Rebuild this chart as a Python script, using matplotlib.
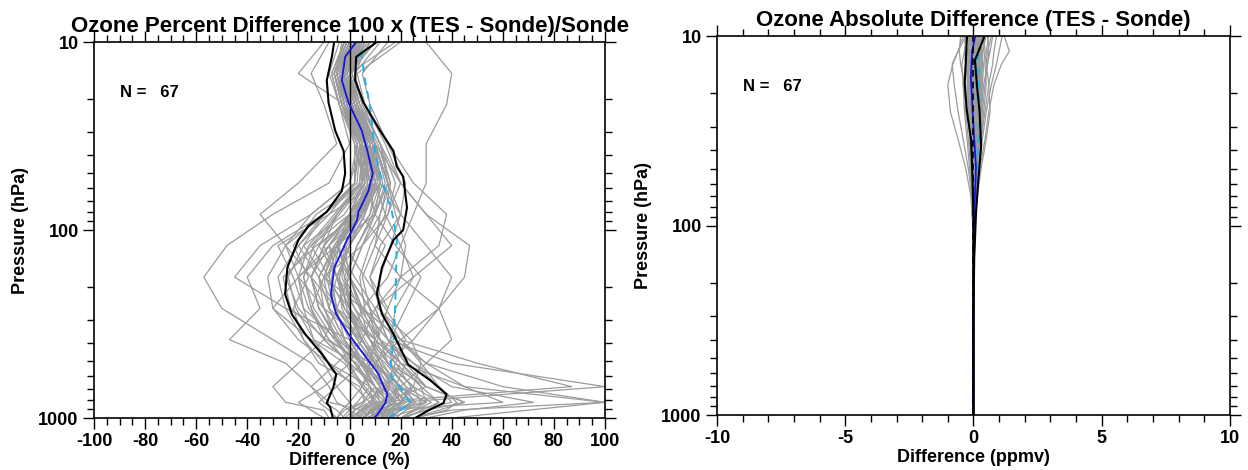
import numpy as np
import matplotlib
matplotlib.use("Agg")
from matplotlib import pyplot as plt
from matplotlib.ticker import MultipleLocator, FixedLocator, NullFormatter

plt.rcParams['font.family'] = ['Liberation Sans', 'DejaVu Sans']
plt.rcParams['font.weight'] = 'bold'
plt.rcParams['axes.unicode_minus'] = False

N_PROFILES = 67

# ---- left panel: percent difference, one row per sonde profile ----
p_left = [1000, 908, 825, 681, 511, 383, 261, 178, 121, 82.5, 56.2, 34.8, 21.5, 14.7, 10]
pct_profiles = [
    [5, 10, 12, 8, 2, -5, -12, -15, -8, 2, 8, 5, -2, -4, 0],
    [15, 20, 25, 18, 10, 5, -2, -5, 0, 6, 10, 8, 2, -1, 4],
    [-5, -2, 5, 10, 5, -3, -10, -12, -5, 4, 12, 8, 0, -3, 3],
    [20, 30, 45, 30, 15, 8, 0, -2, 3, 10, 14, 10, 3, 0, 6],
    [0, 2, 0, -5, -10, -18, -25, -28, -20, -8, 2, 3, -4, -7, -2],
    [10, 12, 8, 15, 20, 15, 5, 0, -5, 0, 5, 4, -1, -5, 1],
    [30, 45, 72, 40, 25, 12, 2, -5, -10, -5, 4, 5, 0, -2, 5],
    [8, 5, -8, -15, -25, -47, -35, -40, -30, -10, 3, 4, -2, -6, -1],
    [12, 15, 20, 25, 15, 10, 15, 20, 22, 18, 15, 10, 4, 0, 8],
    [-8, -10, -25, -30, -20, -10, -5, -8, -15, -5, 5, 6, 1, -3, 2],
    [25, 40, 100, 60, 30, 20, 5, -10, -18, -10, 2, 4, -1, -4, 3],
    [5, 8, 12, 20, 30, 40, 35, 20, 10, 12, 15, 10, 2, -2, 4],
    [15, 20, 18, 10, 0, -10, -20, -25, -15, 0, 10, 8, 3, 0, 10],
    [2, 0, 5, 15, 10, 5, -5, -12, -20, -10, 5, 8, 0, -4, 2],
    [40, 70, 100, 45, 20, 10, 0, -5, 0, 8, 12, 6, -2, -5, 0],
    [10, 15, 20, 100, 40, 15, 5, 0, 5, 10, 12, 8, 1, -3, 4],
    [0, 5, 10, 87, 50, 20, 5, 0, -5, 5, 10, 6, 0, -2, 3],
    [5, 0, -5, -8, -15, -30, -50, -57, -48, -30, -8, 0, -4, -7, -2],
    [10, 8, 15, 20, 10, 0, -25, -45, -35, -15, 0, 5, 0, -3, 3],
    [-10, -15, -20, -10, 0, 5, 10, 25, 40, 30, 20, 12, 4, 0, 6],
    [0, 5, 10, 5, 10, 20, 35, 45, 47, 30, 20, 10, 3, -1, 5],
    [15, 25, 40, 35, 25, 15, 10, 20, 35, 38, 25, 15, 5, 2, 8],
    [20, 25, 30, 20, 10, 5, -10, -20, -25, -15, 0, 3, -2, -5, 0],
    [-2, -5, -10, -15, -5, 5, 0, -10, -5, 10, 15, 10, 0, -4, 2],
    [8, 10, 15, 10, 0, -10, -15, -10, 5, 15, 18, 12, 5, 2, 12],
    [25, 35, 45, 30, 20, 10, -5, -15, -10, 0, 8, 5, -1, -5, 0],
    [5, 10, 20, 15, 5, -2, -8, -5, 0, 8, 10, 6, 0, -3, 3],
    [12, 18, 25, 22, 15, 8, 0, -5, -8, 0, 8, 5, -3, -6, -2],
    [-5, -3, 0, 5, 8, 10, 5, -5, -12, -5, 5, 8, 3, 0, 18],
    [10, 15, 30, 20, 8, -5, -18, -20, -8, 5, 12, 10, 4, 0, 10],
    [0, 2, 8, 12, 5, -8, -15, -18, -12, 2, 10, 5, -2, -5, -3],
    [15, 20, 28, 25, 15, 12, 8, 5, 10, 15, 20, 14, 6, 3, 20],
    [5, 10, 15, 10, 5, 0, 5, 15, 20, 25, 30, 30, 38, 40, 30],
    [10, 12, 10, 5, 0, -5, -10, -15, -25, -35, -20, -5, -10, -15, -8],
    [18, 22, 30, 28, 18, 8, -2, -8, -5, 5, 12, 10, 2, -2, 5],
    [-3, 0, 3, 8, 2, -5, -12, -15, -10, 0, 6, 4, -2, -20, -10],
    [6, 8, 12, 30, 22, 15, 10, 2, -5, 2, 10, 8, 2, -1, 4],
    [25, 38, 42, 35, 28, 20, 12, 8, 12, 20, 22, 15, 8, 5, 15],
    [2, 5, 8, 2, -8, -20, -30, -32, -25, -10, 2, 2, -3, -6, -2],
    [14, 16, 18, 12, 5, -2, -5, 0, 5, 12, 16, 12, 5, 1, 6],
    [-5, -8, -12, -5, 5, 10, 8, 0, -8, 0, 10, 8, 1, -3, 2],
    [8, 12, 60, 45, 30, 18, 8, 0, -5, 3, 10, 8, 2, -2, 4],
    [20, 30, 35, 25, 15, 25, 35, 40, 30, 20, 15, 10, 3, 0, 8],
    [3, 6, 10, 5, -2, -15, -30, -20, -5, 10, 15, 12, 4, 1, 6],
    [12, 14, 16, 14, 18, 22, 14, 6, -2, 5, 9, 6, 0, -3, 2],
    [8, 10, 12, 10, 4, -2, -8, -10, -6, 2, 7, 5, -1, -4, 1],
    [15, 18, 22, 16, 9, 3, -3, -4, 0, 6, 11, 8, 1, -2, 5],
    [3, 6, 9, 8, 3, -14, -21, -24, -18, -2, 6, 4, -2, -5, 0],
    [18, 22, 26, 20, 12, 6, 0, -1, 3, 9, 13, 9, 2, -1, 6],
    [10, 14, 18, 18, 22, 16, 18, 25, 20, 14, 10, 7, 1, -3, 3],
    [6, 9, 14, 12, 6, 0, -6, -9, -4, 4, 9, 6, -1, -4, 1],
    [20, 26, 32, 22, 14, 4, -8, -12, -6, 3, 8, 4, -3, -6, -1],
    [-2, 2, 6, 4, -12, -18, -22, -16, -22, -13, 5, 3, -3, -6, -1],
    [14, 18, 20, 24, 18, 12, 6, 4, 8, 14, 16, 11, 3, -1, 4],
    [9, 11, 15, 10, 2, -6, -14, -18, -14, -4, 6, 7, 2, -2, 4],
    [11, 13, 16, 25, 28, 24, 11, 12, 16, 20, 12, 9, 2, -2, 3],
    [4, 7, 11, 6, -1, -8, -16, -20, -16, -6, 4, 5, 0, -3, 2],
    [16, 20, 24, 19, 13, 8, 2, -3, -2, 4, 9, 7, 1, -3, 3],
    [7, 12, 18, 14, 6, -9, -23, -26, -13, 3, 6, 2, -4, -8, -4],
    [13, 17, 21, 18, 10, 3, -5, -7, -4, 4, 10, 9, 3, 0, 7],
    [1, 4, 8, 12, 10, 16, 22, 28, 18, 10, 7, 6, 0, -3, 1],
    [22, 28, 35, 28, 20, 12, 4, -2, -4, 2, 8, 6, 0, -4, 2],
    [10, 12, 14, 8, -8, -14, -18, -22, -28, -8, 11, 9, 2, -1, 4],
    [5, 9, 13, 16, 12, 8, 4, 0, -2, 5, 12, 10, 3, 0, 5],
    [17, 19, 24, 14, 4, -4, -12, -15, -10, 1, 9, 7, 1, -2, 3],
    [9, 13, 17, 13, 7, 11, 15, 8, 14, 4, 8, 4, -3, -6, 0],
    [12, 16, 20, 17, 11, 5, -1, -4, -1, 6, 10, 7, 1, -2, 4],
]

# statistics
p_mean_l = [1000, 940, 832, 748, 685, 585, 457, 357, 280, 219, 158, 113, 89, 80, 62, 50, 38, 29.6, 21, 16, 12, 10]
mean_l = [9.7, 11.4, 14, 14.9, 13.5, 11.4, 5.5, -0.4, -5.2, -7.3, -5.9, -1, 2.9, 3.5, 7.4, 9.1, 7, 4.8, -0.4, -3, -1.7, 2.6]
p_lo_l = [1000, 874, 832, 685, 585, 457, 357, 280, 219, 158, 113, 95, 80, 62, 50, 38, 29.6, 21, 16, 12, 10]
lo_l = [-6.5, -7.6, -8.9, -6.3, -5.2, -10.8, -17.4, -22.6, -25.2, -24.3, -20, -16, -8.9, -3, -1.7, -2.3, -5.6, -8.2, -8.9, -6.9, -6]
p_hi_l = [1000, 920, 832, 748, 630, 520, 457, 357, 280, 219, 158, 113, 100, 76, 52, 46, 38, 29.6, 21, 16, 12, 10]
hi_l = [25.7, 30.3, 36.8, 38, 31.6, 23, 21, 17.2, 12.7, 10.7, 12.7, 17.2, 21, 22.5, 21, 18.5, 17.2, 12, 5.5, 2.2, 2.6, 10.7]
p_rms_l = [1000, 832, 685, 610, 500, 357, 201, 110, 100, 80, 62, 50, 38, 29.6, 21, 16, 12, 10.7]
rms_l = [15.3, 23.8, 19.8, 16.6, 16.2, 17.5, 18.1, 18.5, 17.9, 16.6, 14, 12, 10, 9.1, 7.8, 6.1, 4.8, 4.5]

# ---- right panel: absolute difference in ppmv ----
p_right = [1000, 300, 150, 100, 70, 50, 35, 25, 18, 14, 12, 10]
ppmv_profiles = [
    [0, 0, 0.01, 0.02, 0.05, 0.1, 0.15, 0.2, 0.1, 0.0, 0.05, 0.1],
    [0, 0, -0.01, -0.03, -0.08, -0.15, -0.25, -0.35, -0.4, -0.3, -0.2, -0.1],
    [0, 0, 0.02, 0.05, 0.12, 0.25, 0.45, 0.6, 0.8, 1.1, 1.4, 1.2],
    [0, 0, 0, -0.02, -0.1, -0.3, -0.6, -0.9, -1.0, -0.8, -0.6, -0.4],
    [0, 0, 0, -0.01, -0.05, -0.2, -0.4, -0.6, -0.75, -0.83, -0.6, -0.3],
    [0, 0, 0.01, 0.03, 0.08, 0.2, 0.35, 0.5, 0.7, 0.9, 1.0, 1.12],
    [0, 0, 0.01, 0.04, 0.1, 0.15, 0.2, 0.15, 0.05, 0.1, 0.2, 0.3],
    [0, 0, 0, 0.0, -0.02, -0.05, -0.1, -0.15, -0.2, -0.25, -0.3, -0.35],
    [0, 0, 0.01, 0.02, 0.06, 0.12, 0.25, 0.35, 0.3, 0.25, 0.35, 0.5],
    [0, 0, -0.01, -0.02, -0.05, -0.08, -0.1, -0.05, 0.0, -0.1, -0.15, -0.2],
    [0, 0, 0.02, 0.05, 0.1, 0.2, 0.3, 0.4, 0.5, 0.45, 0.5, 0.6],
    [0, 0, 0, 0.01, 0.03, 0.05, 0.02, -0.05, -0.15, -0.2, -0.25, -0.3],
    [0, 0, 0.01, 0.03, 0.06, 0.1, 0.12, 0.1, 0.15, 0.2, 0.25, 0.2],
    [0, 0, 0, -0.01, -0.03, -0.1, -0.2, -0.3, -0.35, -0.5, -0.55, -0.5],
    [0, 0, 0.01, 0.02, 0.05, 0.08, 0.15, 0.25, 0.35, 0.4, 0.45, 0.4],
    [0, 0, 0.0, 0.01, 0.0, -0.02, -0.05, -0.08, -0.1, -0.05, 0.0, 0.05],
    [0, 0, 0.02, 0.06, 0.15, 0.3, 0.5, 0.65, 0.6, 0.5, 0.55, 0.7],
    [0, 0, 0.01, 0.01, 0.02, 0.04, 0.06, 0.05, 0.02, -0.02, 0.0, 0.08],
    [0, 0, -0.01, -0.02, -0.04, -0.1, -0.15, -0.2, -0.25, -0.2, -0.1, 0.0],
    [0, 0, 0.01, 0.03, 0.08, 0.15, 0.22, 0.28, 0.3, 0.35, 0.3, 0.25],
    [0, 0, 0, 0.02, 0.04, 0.05, 0.08, 0.15, 0.25, 0.3, 0.2, 0.15],
    [0, 0, 0.01, 0.02, 0.05, 0.1, 0.18, 0.25, 0.2, 0.1, 0.0, -0.1],
    [0, 0, 0, -0.01, -0.02, -0.05, -0.12, -0.18, -0.22, -0.3, -0.35, -0.25],
    [0, 0, 0.02, 0.04, 0.1, 0.18, 0.3, 0.45, 0.6, 0.75, 0.8, 0.9],
    [0, 0, 0.01, 0.02, 0.03, 0.06, 0.1, 0.12, 0.08, 0.05, 0.1, 0.15],
    [0, 0, 0, 0.0, 0.02, 0.03, 0.0, -0.05, -0.1, -0.12, -0.05, 0.0],
    [0, 0, 0.01, 0.03, 0.07, 0.12, 0.2, 0.3, 0.4, 0.55, 0.65, 0.75],
    [0, 0, 0.01, 0.02, 0.05, 0.1, 0.15, 0.1, 0.0, -0.1, -0.15, -0.1],
    [0, 0, 0.01, 0.02, 0.04, 0.08, 0.1, 0.2, 0.25, 0.2, 0.15, 0.2],
    [0, 0, 0, -0.01, -0.03, -0.06, -0.08, -0.1, -0.12, -0.15, -0.2, -0.15],
    [0, 0, 0.01, 0.02, 0.04, 0.08, 0.25, 0.35, 0.45, 0.55, 0.6, 0.55],
    [0, 0, 0, 0.01, 0.02, 0.03, 0.05, 0.02, -0.05, -0.1, -0.08, 0.0],
    [0, 0, 0.01, 0.02, 0.05, 0.09, 0.14, 0.18, 0.15, 0.1, 0.12, 0.2],
    [0, 0, -0.01, -0.01, -0.02, -0.04, -0.12, -0.25, -0.4, -0.45, -0.35, -0.25],
    [0, 0, 0.01, 0.03, 0.06, 0.12, 0.2, 0.28, 0.35, 0.3, 0.35, 0.45],
    [0, 0, 0, 0.01, 0.01, 0.02, 0.03, 0.06, 0.1, 0.12, 0.15, 0.3],
    [0, 0, 0.01, 0.01, 0.03, 0.05, 0.08, 0.05, -0.02, -0.05, 0.0, 0.1],
    [0, 0, 0, -0.01, -0.02, -0.03, -0.05, -0.08, -0.12, -0.1, -0.05, 0.05],
    [0, 0, 0.01, 0.02, 0.04, 0.07, 0.1, 0.15, 0.2, 0.25, 0.3, 0.35],
    [0, 0, 0.01, 0.03, 0.07, 0.12, 0.18, 0.2, 0.18, 0.15, 0.1, 0.05],
    [0, 0, 0, 0.0, -0.01, -0.02, -0.04, -0.06, -0.05, 0.0, 0.05, 0.1],
    [0, 0, 0.01, 0.02, 0.04, 0.06, 0.09, 0.12, 0.1, 0.05, 0.05, 0.15],
    [0, 0, 0, -0.01, -0.03, -0.07, -0.12, -0.15, -0.18, -0.22, -0.2, -0.15],
    [0, 0, 0.01, 0.02, 0.05, 0.1, 0.16, 0.22, 0.28, 0.32, 0.38, 0.42],
    [0, 0, 0.01, 0.01, 0.02, 0.04, 0.07, 0.1, 0.12, 0.1, 0.08, 0.12],
    [0, 0, 0, 0.01, 0.02, 0.02, 0.0, -0.03, -0.06, -0.08, -0.1, -0.05],
    [0, 0, 0.01, 0.02, 0.03, 0.05, 0.06, 0.08, 0.05, 0.02, 0.05, 0.1],
    [0, 0, 0.01, 0.03, 0.06, 0.1, 0.14, 0.16, 0.2, 0.25, 0.28, 0.32],
    [0, 0, 0, -0.01, -0.02, -0.04, -0.07, -0.1, -0.1, -0.06, -0.02, 0.02],
    [0, 0, 0.01, 0.02, 0.04, 0.06, 0.1, 0.14, 0.16, 0.14, 0.18, 0.22],
]

p_mean_r = [1000, 300, 150, 90, 49, 30, 16.4, 12, 10]
mean_r = [0, 0, 0.01, 0.03, 0.1, 0.0, -0.1, -0.05, 0.07]
p_lo_r = [1000, 300, 150, 90, 57.5, 35.4, 24.6, 17.7, 10]
lo_r = [0, 0, -0.005, 0, -0.035, -0.09, -0.26, -0.34, -0.25]
p_hi_r = [1000, 300, 150, 86, 60, 38, 25, 18.5, 13.4, 10]
hi_r = [0, 0, 0.03, 0.1, 0.18, 0.3, 0.24, 0.14, 0.06, 0.43]
p_rms_r = [1000, 300, 150, 88, 57, 40, 24.6, 17.7, 11.5]
rms_r = [0, 0, 0.02, 0.05, 0.1, 0.18, 0.25, 0.21, 0.18]

GRAY = '#9c9c9c'
BLUE = '#1414e6'
CYAN = '#19b4f0'

fig = plt.figure(figsize=(12.48, 4.70), dpi=100)
ax1 = fig.add_axes([0.0753, 0.1106, 0.4095, 0.8])
ax2 = fig.add_axes([0.5745, 0.117, 0.411, 0.806])


def style_axes(ax, xmax, major, minor, xlabel, title):
    ax.set_yscale('log')
    ax.set_ylim(1000, 10)
    ax.set_xlim(-xmax, xmax)
    ax.yaxis.set_major_locator(FixedLocator([10, 100, 1000]))
    ax.set_yticklabels(['10', '100', '1000'])
    ax.yaxis.set_minor_locator(FixedLocator([20, 30, 40, 50, 60, 70, 80, 90,
                                             200, 300, 400, 500, 600, 700, 800, 900]))
    ax.yaxis.set_minor_formatter(NullFormatter())
    ax.xaxis.set_major_locator(MultipleLocator(major))
    ax.xaxis.set_minor_locator(MultipleLocator(minor))
    ax.tick_params(which='both', direction='out', top=True, right=True,
                   width=1.0, labelsize=13, pad=3)
    ax.tick_params(which='major', length=8)
    ax.tick_params(which='minor', length=5)
    for s in ax.spines.values():
        s.set_linewidth(1.2)
    ax.set_xlabel(xlabel, fontsize=13, fontweight='bold', labelpad=1)
    ax.set_ylabel('Pressure (hPa)', fontsize=13, fontweight='bold', labelpad=7)
    ax.set_title(title, fontsize=16, fontweight='bold', pad=7)
    ax.text(0.051, 0.867, 'N =   %d' % N_PROFILES, transform=ax.transAxes,
            fontsize=12, fontweight='bold', va='center', ha='left')


for prof in pct_profiles:
    ax1.plot(prof, p_left, color=GRAY, lw=0.9)
ax1.axvline(0, color='black', lw=1.0)
ax1.plot(rms_l, p_rms_l, color=CYAN, lw=1.4, ls=(0, (4, 3)))
ax1.plot(mean_l, p_mean_l, color=BLUE, lw=1.3)
ax1.plot(lo_l, p_lo_l, color='black', lw=1.5)
ax1.plot(hi_l, p_hi_l, color='black', lw=1.5)
style_axes(ax1, 100, 20, 5, 'Difference (%)',
           'Ozone Percent Difference 100 x (TES - Sonde)/Sonde')

for prof in ppmv_profiles:
    ax2.plot(prof, p_right, color=GRAY, lw=0.9)
ax2.plot(rms_r, p_rms_r, color=CYAN, lw=1.4, ls=(0, (4, 3)))
ax2.plot(mean_r, p_mean_r, color=BLUE, lw=1.3)
ax2.plot(lo_r, p_lo_r, color='black', lw=1.5)
ax2.plot(hi_r, p_hi_r, color='black', lw=1.5)
ax2.axvline(0, color='black', lw=1.2, ls=(0, (4, 3)))
style_axes(ax2, 10, 5, 1, 'Difference (ppmv)',
           'Ozone Absolute Difference (TES - Sonde)')

plt.savefig('out.png', dpi=100)
